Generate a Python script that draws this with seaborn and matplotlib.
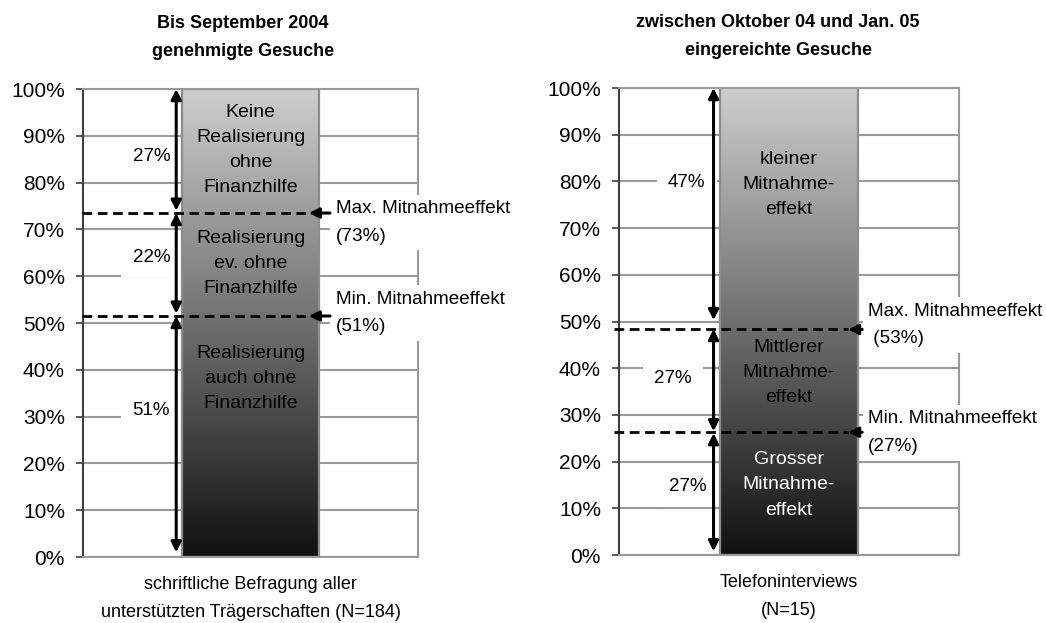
"""Mitnahmeeffekt: two single stacked bars with gradient fill."""
import numpy as np
import seaborn as sns
from matplotlib import pyplot as plt
from matplotlib import font_manager
from matplotlib.colors import LinearSegmentedColormap

# --- left panel: approved requests up to Sept 2004
left_title = "Bis September 2004\ngenehmigte Gesuche"
left_category = "schriftliche Befragung aller\nunterstützten Trägerschaften (N=184)"
left_segments = [51, 22, 27]
left_seg_text = ["Realisierung\nauch ohne\nFinanzhilfe",
                 "Realisierung\nev. ohne\nFinanzhilfe",
                 "Keine\nRealisierung\nohne\nFinanzhilfe"]
left_share_labels = ["51%", "22%", "27%"]
left_spans = [(51.5, 1.0), (73.5, 52.0), (100.0, 74.0)]
left_cut_levels = [73.5, 51.5]
left_cut_text = ["Max. Mitnahmeeffekt\n(73%)", "Min. Mitnahmeeffekt\n(51%)"]

# --- right panel: requests Oct 04 - Jan 05
right_title = "zwischen Oktober 04 und Jan. 05\neingereichte Gesuche"
right_category = "Telefoninterviews\n(N=15)"
right_segments = [27, 27, 47]
right_seg_text = ["Grosser\nMitnahme-\neffekt",
                  "Mittlerer\nMitnahme-\neffekt",
                  "kleiner\nMitnahme-\neffekt"]
right_share_labels = ["27%", "27%", "47%"]
right_spans = [(26.1, 0.8), (48.4, 26.5), (100.0, 50.3)]
right_cut_levels = [48.3, 26.3]
right_cut_text = ["Max. Mitnahmeeffekt\n (53%)", "Min. Mitnahmeeffekt\n(27%)"]

yticks = list(range(0, 101, 10))

sns.set_style("white")
installed = {f.name for f in font_manager.fontManager.ttflist}
if "Liberation Sans Narrow" in installed:
    plt.rcParams["font.family"] = ["Liberation Sans Narrow", "DejaVu Sans"]
else:
    plt.rcParams["font.family"] = ["Liberation Sans", "DejaVu Sans"]
plt.rcParams["text.color"] = "black"
plt.rcParams["xtick.labelcolor"] = "black"
plt.rcParams["ytick.labelcolor"] = "black"

grad = LinearSegmentedColormap.from_list("g", ["#111111", "#cecece"])


def draw_panel(ax, title, title_x, category, segments, seg_text, seg_y, seg_colors,
               shares, share_pos, spans, cuts, cut_text, cut_y, cut_x, line_x0):
    tops = np.cumsum(segments)
    for top in tops[::-1]:
        sns.barplot(x=[category], y=[top], color="white", errorbar=None,
                    width=0.8, ax=ax, zorder=2)
    outline = ax.patches[0]
    for i, p in enumerate(ax.patches):
        p.set_facecolor("none")
        p.set_edgecolor("#8c8c8c" if i == 0 else "none")
        p.set_linewidth(1.6)
    x0 = outline.get_x()
    x1 = x0 + outline.get_width()
    img = ax.imshow(np.linspace(0, 1, 256).reshape(-1, 1), cmap=grad, origin="lower",
                    extent=[x0, x1, 0, 100], aspect="auto", zorder=1.9)
    img.set_clip_path(outline)

    ax.set_xlim(-0.98, 0.98)
    ax.set_ylim(0, 100)
    ax.set_yticks(yticks)
    ax.set_yticklabels([f"{t}%" for t in yticks], family=["Liberation Sans", "DejaVu Sans"])
    ax.yaxis.grid(True, color="#9a9a9a", lw=1.5)
    ax.set_axisbelow(True)
    ax.tick_params(axis="y", length=5, width=1.2, color="#404040", labelsize=15, pad=8, left=True)
    ax.tick_params(axis="x", length=0, labelsize=13, pad=14)
    for lab in ax.get_xticklabels():
        lab.set_linespacing(1.8)
    ax.set_xlabel("")
    ax.set_ylabel("")
    for side in ["top", "right", "bottom"]:
        ax.spines[side].set_color("#9a9a9a")
        ax.spines[side].set_linewidth(1.5)
    ax.spines["left"].set_color("#404040")
    ax.spines["left"].set_linewidth(1.5)
    ax.set_title(title, x=title_x, fontsize=13, fontweight="bold", pad=24, linespacing=1.85)

    cx = x0 + (x1 - x0) / 2
    for txt, y, c in zip(seg_text, seg_y, seg_colors):
        ax.text(cx, y, txt, ha="center", va="center", fontsize=14, color=c,
                linespacing=1.62, zorder=5)

    for txt, (sx, sy) in zip(shares, share_pos):
        ax.text(sx, sy, txt, ha="center", va="center", fontsize=13.5, zorder=1.5,
                bbox=dict(boxstyle="square,pad=0.6", fc="white", ec="none"))

    arrow_x = x0 - 0.035
    for hi, lo in spans:
        ax.annotate("", xy=(arrow_x, lo), xytext=(arrow_x, hi), zorder=4,
                    arrowprops=dict(arrowstyle="<|-|>", lw=2.2, color="black",
                                    mutation_scale=15, shrinkA=0, shrinkB=0))

    tip = x1 - 0.06
    for lvl, txt, ty in zip(cuts, cut_text, cut_y):
        ax.hlines(lvl, line_x0, tip, colors="black", lw=2, linestyles=(0, (3.5, 2)),
                  zorder=4, clip_on=False)
        ax.annotate("", xy=(tip, lvl), xytext=(cut_x - 0.035, lvl), zorder=4,
                    annotation_clip=False,
                    arrowprops=dict(arrowstyle="-|>", lw=2.2, color="black",
                                    mutation_scale=15, shrinkA=0, shrinkB=0))
        ax.text(cut_x, ty, txt, ha="left", va="center", fontsize=13.6, linespacing=1.8,
                zorder=3, clip_on=False,
                bbox=dict(boxstyle="square,pad=0.3", fc="white", ec="none"))


fig = plt.figure(figsize=(10.46, 6.23), dpi=100)
ax1 = fig.add_axes([0.0794, 0.1059, 0.3203, 0.7512])
ax2 = fig.add_axes([0.5918, 0.1091, 0.3250, 0.7496])

draw_panel(ax1, left_title, 0.478, left_category, left_segments, left_seg_text,
           [38.2, 62.8, 87.0], ["black"] * 3,
           left_share_labels, [(-0.58, 31.4), (-0.58, 64.0), (-0.58, 85.5)],
           left_spans, left_cut_levels, left_cut_text, [71.5, 52.2], 0.5, -0.985)
draw_panel(ax2, right_title, 0.468, right_category, right_segments, right_seg_text,
           [15.0, 39.0, 79.4], ["white", "black", "black"],
           right_share_labels, [(-0.585, 14.6), (-0.67, 37.7), (-0.59, 79.7)],
           right_spans, right_cut_levels, right_cut_text, [49.2, 26.2], 0.457, -1.01)

fig.savefig("out.png", dpi=100)
